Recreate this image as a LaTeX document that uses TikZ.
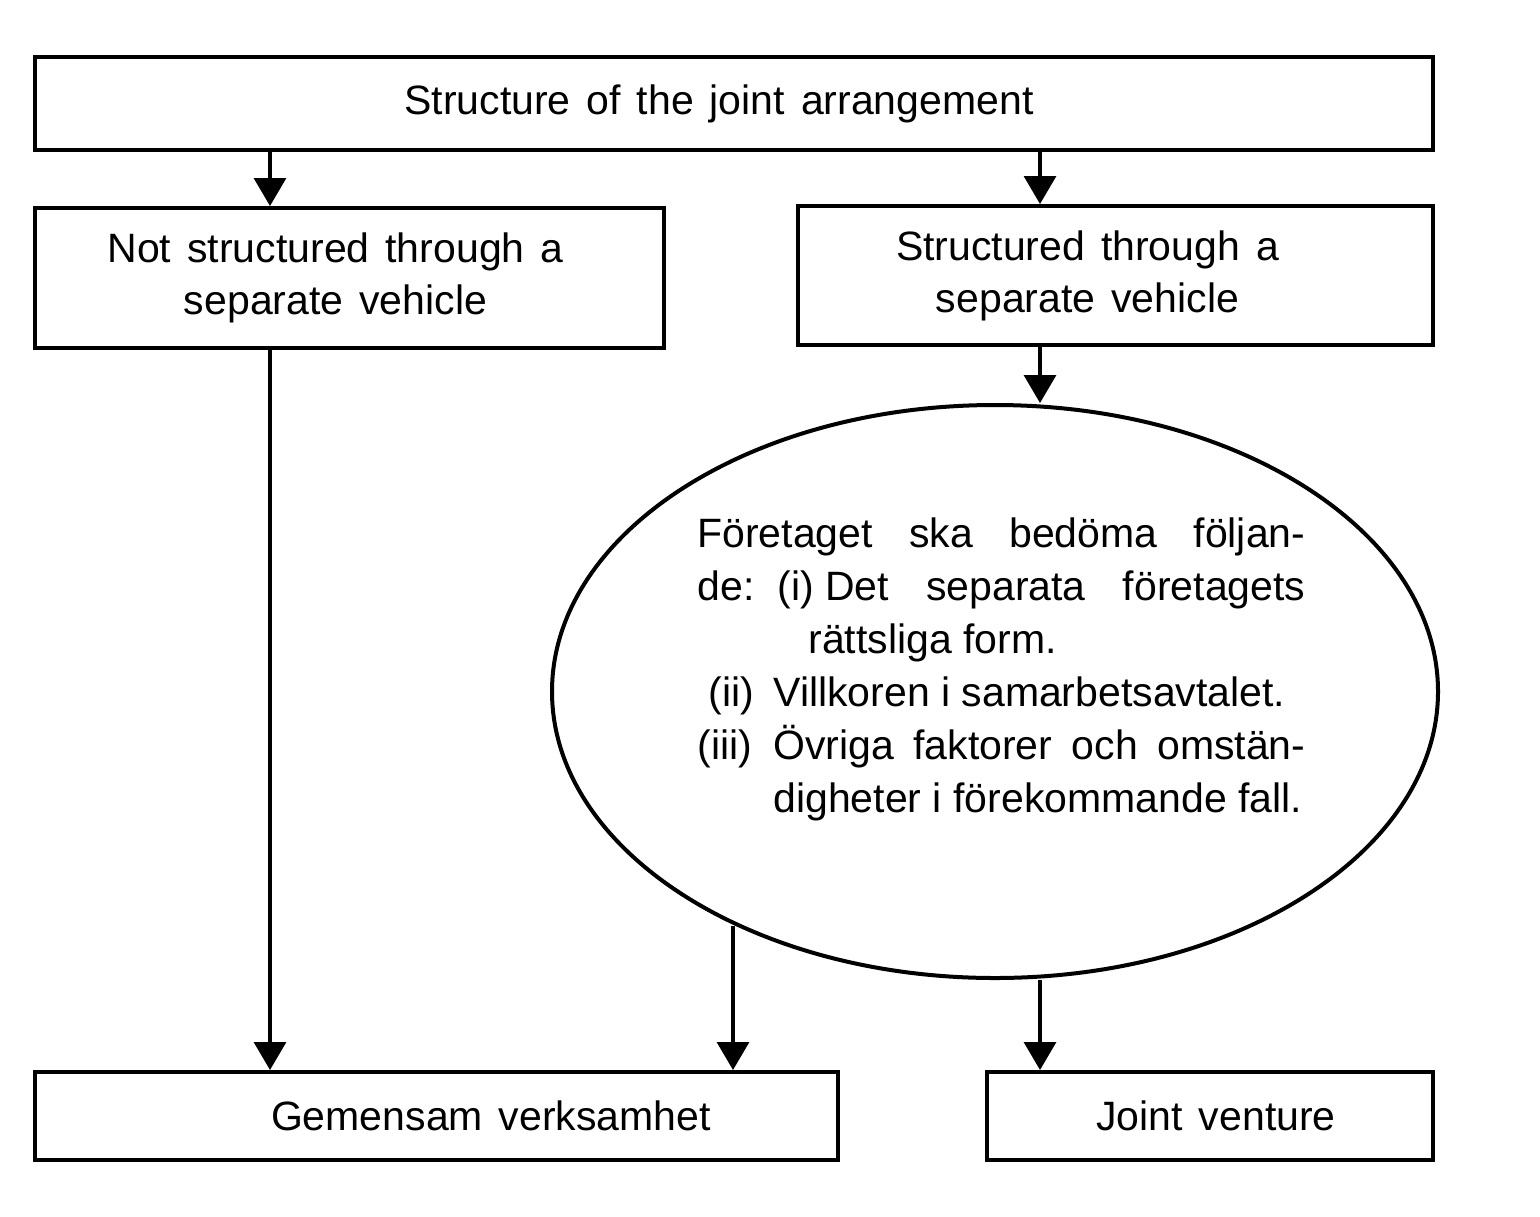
\documentclass[tikz,border=0pt]{standalone}
\usepackage{fontspec}
\setmainfont{Liberation Sans}
\usetikzlibrary{arrows.meta,shapes.geometric}
\newcommand\myboxfont{\fontsize{20.5}{26}\selectfont\setlength{\spaceskip}{8pt plus 1pt minus 1pt}}
\begin{document}
\begin{tikzpicture}[x=0.5pt,y=-0.5pt,
  every node/.style={font=\fontsize{20.5}{26.5}\selectfont},
  box/.style={draw, line width=2pt, rectangle, inner sep=0pt, align=center, font=\myboxfont},
  conn/.style={line width=1.6pt, -{Triangle[width=16pt,length=14pt]}}]
\useasboundingbox (0,0) rectangle (1540,1216);
\fill[white] (0,0) rectangle (1540,1216);
\node[box, minimum width=699pt, minimum height=46.5pt] (top) at (734,103.5) {Structure of the joint arrangement\hspace*{15pt}};
\node[box, minimum width=314.5pt, minimum height=70pt] (nsv) at (349.5,278) {Not structured through a\hspace*{14pt}\\separate vehicle\hspace*{14pt}};
\node[box, minimum width=317.5pt, minimum height=69.5pt] (sv) at (1115.5,275.5) {Structured through a\hspace*{28pt}\\separate vehicle\hspace*{28pt}};
\node[draw, line width=2pt, ellipse, inner sep=0pt, minimum width=443pt, minimum height=286.5pt] (assess) at (995,691.5) {};
\node[anchor=base west, inner sep=0pt] (assesstext) at (697,547) {\parbox[t]{304pt}{%
\hbox to 304pt{Företaget\hfill ska\hfill bedöma\hfill följan-}
\hbox to 304pt{\makebox[40pt][l]{de:}(i)\ Det\hfill separata\hfill företagets}
\hbox{\hspace*{55.5pt}rättsliga form.}
\hbox{\makebox[38pt][l]{\hspace*{5.5pt}(ii)}Villkoren i samarbetsavtalet.}
\hbox to 304pt{\makebox[38pt][l]{(iii)}Övriga\hfill faktorer\hfill och\hfill omstän-}
\hbox{\hspace*{38pt}digheter i förekommande fall.}}};
\node[box, minimum width=401.5pt, minimum height=44pt] (gem) at (436.5,1116) {\hspace*{54.5pt}Gemensam verksamhet};
\node[box, minimum width=223pt, minimum height=44pt] (jv) at (1210,1116) {\hspace*{6pt}Joint venture};
\coordinate (xA) at (270,0);
\coordinate (xB) at (1040,0);
\coordinate (xC) at (733,0);
\draw[conn] (top.south -| xA) -- (nsv.north -| xA);
\draw[conn] (top.south -| xB) -- (sv.north -| xB);
\draw[conn] (sv.south -| xB) -- (assess.north -| xB);
\draw[conn] (nsv.south -| xA) -- (gem.north -| xA);
\draw[conn] (xC |- assess.-138.6) -- (gem.north -| xC);
\draw[conn] (assess.south -| xB) -- (jv.north -| xB);
\end{tikzpicture}
\end{document}
